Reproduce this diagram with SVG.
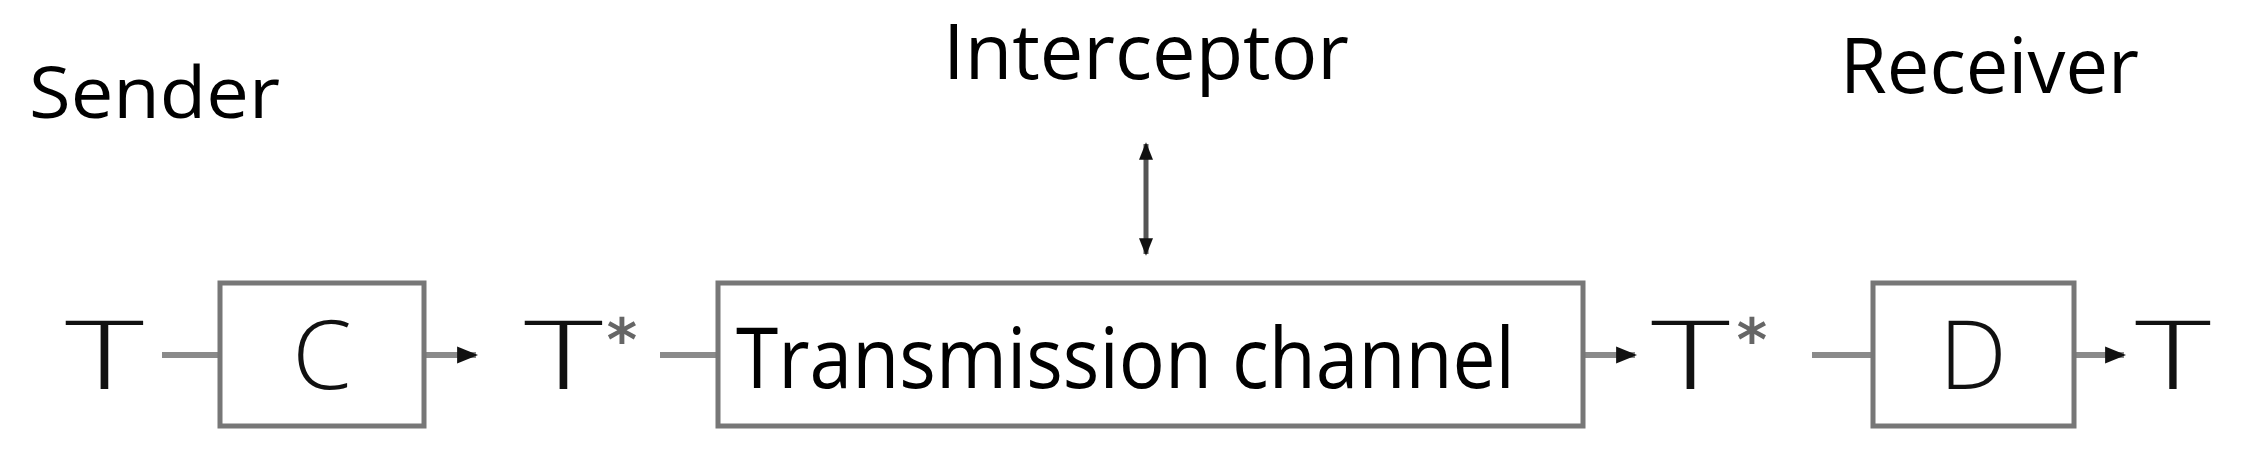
<svg xmlns="http://www.w3.org/2000/svg" width="2251" height="455" viewBox="0 0 2251 455">
<style>
.box{fill:#fff;stroke:#777;stroke-width:5}
.ln{stroke:#8a8a8a;stroke-width:6;fill:none}
.lbl{font-family:"Open Sans","DejaVu Sans",sans-serif;fill:#000}
.sym{font-family:"Open Sans","DejaVu Sans",sans-serif;fill:#111;font-weight:300}
.star{font-family:"DejaVu Sans",sans-serif;fill:#666}
</style>
<defs>
<marker id="ah" viewBox="0 0 10 10" refX="9" refY="5" markerWidth="3.5" markerHeight="3.5" orient="auto-start-reverse" markerUnits="strokeWidth">
<path d="M0,1 L10,5 L0,9 Z" fill="#111"/>
</marker>
</defs>
<rect width="2251" height="455" fill="#fff"/>
<g id="labels">
<text class="lbl" x="29" y="118" font-size="72" textLength="251" lengthAdjust="spacingAndGlyphs">Sender</text>
<text class="lbl" x="943" y="79" font-size="77" textLength="406" lengthAdjust="spacingAndGlyphs">Interceptor</text>
<text class="lbl" x="1840" y="93" font-size="77" textLength="299" lengthAdjust="spacingAndGlyphs">Receiver</text>
</g>
<g id="connectors">
<line class="ln" x1="162" y1="355" x2="220" y2="355"/>
<line class="ln" x1="424" y1="355" x2="476" y2="355" marker-end="url(#ah)"/>
<line class="ln" x1="660" y1="355" x2="718" y2="355"/>
<line class="ln" x1="1583" y1="355" x2="1635" y2="355" marker-end="url(#ah)"/>
<line class="ln" x1="1812" y1="355" x2="1873" y2="355"/>
<line class="ln" x1="2074" y1="355" x2="2124" y2="355" marker-end="url(#ah)"/>
<line x1="1146" y1="144" x2="1146" y2="254" stroke="#555" stroke-width="5" marker-start="url(#ah)" marker-end="url(#ah)"/>
</g>
<g id="T-in"><text class="sym" x="65" y="389" font-size="96" textLength="79" lengthAdjust="spacingAndGlyphs">T</text></g>
<g id="C"><rect class="box" x="220" y="283" width="204" height="143"/><text class="sym" x="322" y="389" font-size="96" text-anchor="middle">C</text></g>
<g id="Tstar1"><text class="sym" x="524" y="389" font-size="96" textLength="79" lengthAdjust="spacingAndGlyphs">T</text><text class="star" x="622" y="360" font-size="58" font-weight="bold" text-anchor="middle">*</text></g>
<g id="channel"><rect class="box" x="718" y="283" width="865" height="143"/><text class="lbl" x="736" y="388" font-size="84" textLength="779" lengthAdjust="spacingAndGlyphs">Transmission channel</text></g>
<g id="Tstar2"><text class="sym" x="1651" y="389" font-size="96" textLength="79" lengthAdjust="spacingAndGlyphs">T</text><text class="star" x="1752" y="360" font-size="58" font-weight="bold" text-anchor="middle">*</text></g>
<g id="D"><rect class="box" x="1873" y="283" width="201" height="143"/><text class="sym" x="1973" y="389" font-size="96" text-anchor="middle">D</text></g>
<g id="T-out"><text class="sym" x="2135" y="389" font-size="96" textLength="76" lengthAdjust="spacingAndGlyphs">T</text></g>
</svg>
